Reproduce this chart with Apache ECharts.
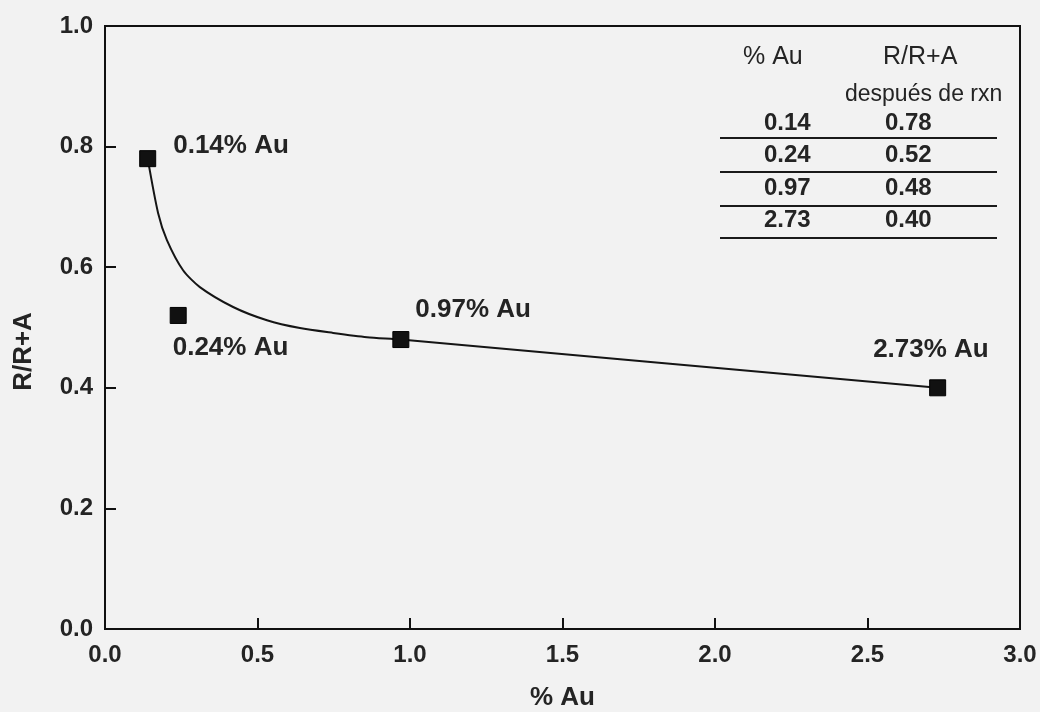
<!DOCTYPE html>
<html>
<head>
<meta charset="utf-8">
<script src="https://cdn.jsdelivr.net/npm/echarts@6/dist/echarts.min.js"></script>
<style>
  html, body { margin: 0; padding: 0; background: #f2f2f2; }
  #chart { width: 1040px; height: 712px; }
</style>
</head>
<body>
<div id="chart"></div>
<script>
// Measured samples: gold loading vs. R/(R+A) after reaction
const pctAu = [0.14, 0.24, 0.97, 2.73];
const ratio = [0.78, 0.52, 0.48, 0.40];

// Trend curve drawn through the samples (read point by point)
const fitX = [0.14, 0.174, 0.203, 0.256, 0.311, 0.42, 0.531, 0.639, 0.748, 0.859, 0.97, 2.73];
const fitY = [0.78, 0.690, 0.645, 0.595, 0.567, 0.534, 0.512, 0.499, 0.491, 0.484, 0.48, 0.40];

// Axis ticks
const xTicks = ['0.0', '0.5', '1.0', '1.5', '2.0', '2.5', '3.0'];
const yTicks = ['0.0', '0.2', '0.4', '0.6', '0.8', '1.0'];

// Table text
const tableHead = ['% Au', 'R/R+A'];
const tableSub = 'después de rxn';

const FONT = '"Liberation Sans", Arial, Helvetica, sans-serif';
const INK = '#242424';

// label placement for each sample tag
const labelOffsets = [[12, -13], [-19, 32], [1, -30], [-78, -38]];

const chart = echarts.init(document.getElementById('chart'));

// table drawn as graphic text and rules
const tableGraphic = [];
tableGraphic.push({ type: 'text', left: 743, top: 45, style: { text: tableHead[0], font: 'normal 25px ' + FONT, fill: INK } });
tableGraphic.push({ type: 'text', left: 883, top: 45, style: { text: tableHead[1], font: 'normal 25px ' + FONT, fill: INK } });
tableGraphic.push({ type: 'text', left: 845, top: 83, style: { text: tableSub, font: 'normal 23px ' + FONT, fill: INK } });
const rowTop = [111, 143, 176, 208];
const ruleY = [138, 172, 206, 238];
pctAu.forEach((p, i) => {
  tableGraphic.push({ type: 'text', left: 764, top: rowTop[i], style: { text: p.toFixed(2), font: 'bold 24px ' + FONT, fill: INK } });
  tableGraphic.push({ type: 'text', left: 885, top: rowTop[i], style: { text: ratio[i].toFixed(2), font: 'bold 24px ' + FONT, fill: INK } });
  tableGraphic.push({ type: 'line', shape: { x1: 720, y1: ruleY[i], x2: 997, y2: ruleY[i] }, style: { stroke: '#1a1a1a', lineWidth: 2 } });
});

chart.setOption({
  backgroundColor: '#f2f2f2',
  animation: false,
  grid: {
    left: 105, right: 20, top: 26, bottom: 83,
    containLabel: false, outerBoundsMode: 'none',
    show: true, borderColor: '#111', borderWidth: 2, backgroundColor: 'transparent'
  },
  xAxis: {
    type: 'value', min: 0, max: 3, interval: 0.5,
    name: '% Au', nameLocation: 'middle', nameGap: 56,
    nameTextStyle: { fontFamily: FONT, fontWeight: 'bold', fontSize: 26, color: INK },
    axisLine: { show: true, lineStyle: { color: '#111', width: 2 } },
    axisTick: { show: true, inside: true, length: 11, lineStyle: { color: '#111', width: 2 } },
    axisLabel: {
      fontFamily: FONT, fontWeight: 'bold', fontSize: 24, color: INK, margin: 14,
      formatter: (v) => xTicks[Math.round(v / 0.5)]
    },
    splitLine: { show: false }
  },
  yAxis: {
    type: 'value', min: 0, max: 1, interval: 0.2,
    name: 'R/R+A', nameLocation: 'middle', nameGap: 68, nameRotate: 90,
    nameTextStyle: { fontFamily: FONT, fontWeight: 'bold', fontSize: 26, color: INK, padding: [0, 48, 0, 0] },
    axisLine: { show: true, lineStyle: { color: '#111', width: 2 } },
    axisTick: { show: true, inside: true, length: 11, lineStyle: { color: '#111', width: 2 } },
    axisLabel: {
      fontFamily: FONT, fontWeight: 'bold', fontSize: 24, color: INK, margin: 12,
      formatter: (v) => yTicks[Math.round(v / 0.2)]
    },
    splitLine: { show: false }
  },
  series: [
    {
      type: 'line',
      data: fitX.map((x, i) => [x, fitY[i]]),
      showSymbol: false,
      symbol: 'none',
      smooth: 0.25,
      lineStyle: { color: '#151515', width: 2 },
      z: 2
    },
    {
      type: 'scatter',
      symbol: 'rect',
      symbolSize: 16,
      itemStyle: { color: '#111', borderColor: '#000', borderWidth: 1, opacity: 1 },
      data: pctAu.map((x, i) => ({
        value: [x, ratio[i]],
        label: {
          show: true, position: 'right', distance: 5,
          offset: labelOffsets[i],
          formatter: x.toFixed(2) + '% Au',
          fontFamily: FONT, fontWeight: 'bold', fontSize: 26, color: INK, opacity: 1
        }
      })),
      z: 3
    }
  ],
  graphic: tableGraphic
});
</script>
</body>
</html>
